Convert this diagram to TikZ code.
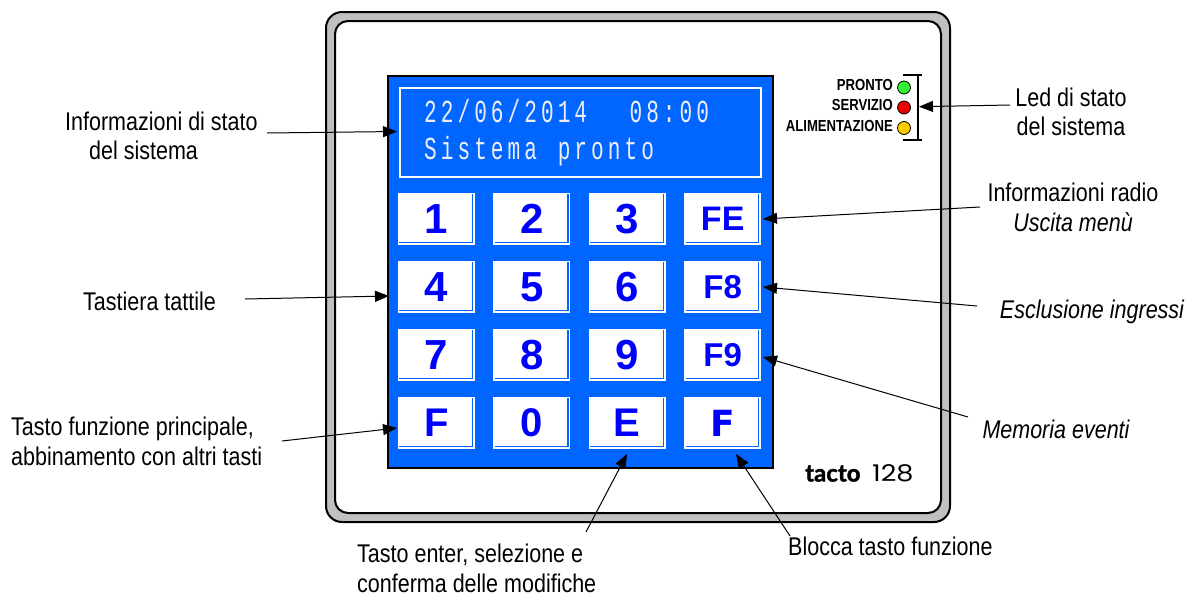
\documentclass[tikz,border=0pt]{standalone}
\usepackage{fontspec}
\setmainfont[FakeStretch=0.84]{Liberation Sans}
\newfontfamily\btnfont{Liberation Sans}
\newfontfamily\btnfontB{DejaVu Sans}
\newfontfamily\ledfont[FakeStretch=0.82]{Liberation Sans}
\newfontfamily\lcdfont[FakeStretch=0.66]{Liberation Mono}
\newfontfamily\tactofont[FakeBold=1.5]{Lato}
\newfontfamily\numfont[FakeStretch=1.18]{Poppins}
\usetikzlibrary{arrows.meta}
\definecolor{panelblue}{HTML}{0066FF}
\definecolor{framegray}{HTML}{C0C0C0}
\definecolor{keyblue}{HTML}{0000FF}
\definecolor{lcdtext}{HTML}{EEEEF4}
\definecolor{ledgreen}{HTML}{33EE33}
\definecolor{ledred}{HTML}{EE0000}
\definecolor{ledyellow}{HTML}{FFCC00}
\def\lcdend{}
\def\lcdloop#1{\ifx#1\lcdend\else\makebox[16.7pt][l]{#1}\expandafter\lcdloop\fi}
\newcommand\lcdline[1]{\lcdloop#1\lcdend}
\tikzset{
  lbl/.style={inner sep=0, font=\fontsize{25.6}{29.5}\selectfont},
  conn/.style={line width=1pt, -{Triangle[length=14pt,width=11pt]}},
  btn/.style={fill=white, inner sep=0, minimum width=77pt, minimum height=52pt, text=keyblue},
  keyshadow/.style={draw=panelblue, line width=1.2pt},
  led/.style={circle, draw=black, line width=0.8pt, minimum size=13pt, inner sep=0},
  ledlbl/.style={inner sep=0, anchor=base east, font=\ledfont\bfseries\fontsize{16}{16}\selectfont},
  lcd/.style={inner sep=0, anchor=base west, text=lcdtext, font=\lcdfont\fontsize{32}{32}\selectfont}
}
\begin{document}
\begin{tikzpicture}[x=1pt,y=-1pt]
\fill[white] (0,0) rectangle (1192,603);
\useasboundingbox (0,0) rectangle (1192,603);
% frame
\draw[line width=2pt, fill=framegray, rounded corners=16pt] (326,12) rectangle (950,522);
\draw[line width=2pt, fill=white, rounded corners=13pt] (335,21) rectangle (941,513);
% panel
\node[draw=black, line width=2pt, fill=panelblue, minimum width=385pt, minimum height=392pt, inner sep=0, anchor=north west] (panel) at (387,75) {};
\node[draw=white, line width=2pt, minimum width=361pt, minimum height=89pt, inner sep=0, anchor=north west] (display) at (399,87) {};
\node[lcd] (lcd1) at (424,122) {\lcdline{22/06/2014~~}\hspace{5pt}\lcdline{08:00}};
\node[lcd] (lcd2) at (424,159.3) {\lcdline{Sistema~pronto}};
% keys
\foreach \lab/\cx/\cy/\nm/\fs in {
  1/436.5/219/b1/42, 2/531.9/219/b2/42, 3/627.3/219/b3/42, FE/722.7/219/bFE/34,
  4/436.5/287/b4/42, 5/531.9/287/b5/42, 6/627.3/287/b6/42, F8/722.7/287/bF8/33,
  7/436.5/355/b7/42, 8/531.9/355/b8/42, 9/627.3/355/b9/42, F9/722.7/355/bF9/33,
  F/436.5/423/bF/40, 0/531.9/423/b0/40, E/627.3/423/bE/40}{
  \node[btn, font=\btnfont\bfseries\fontsize{\fs}{\fs}\selectfont] (\nm) at (\cx,\cy) {\lab};
  \draw[keyshadow] ([xshift=-2.6pt,yshift=-1.5pt]\nm.north east) -- ([xshift=-2.6pt,yshift=2.6pt]\nm.south east) -- ([xshift=1.5pt,yshift=2.6pt]\nm.south west);
}
\node[btn, font=\btnfontB\bfseries\fontsize{36}{36}\selectfont] (bLock) at (722.7,423) {F};
\draw[keyshadow] ([xshift=-2.6pt,yshift=-1.5pt]bLock.north east) -- ([xshift=-2.6pt,yshift=2.6pt]bLock.south east) -- ([xshift=1.5pt,yshift=2.6pt]bLock.south west);
% LEDs
\node[ledlbl] (lp) at (893,90.7) {PRONTO};
\node[ledlbl] (ls) at (893,110.7) {SERVIZIO};
\node[ledlbl] (la) at (893,131.7) {ALIMENTAZIONE};
\node[led, fill=ledgreen] (ledP) at (904,87.5) {};
\node[led, fill=ledred] (ledS) at (904,107.5) {};
\node[led, fill=ledyellow] (ledA) at (904,128) {};
\draw[line width=1.5pt] (903,75) -- (922,75) (918,75) -- (918,140) (903,140) -- (922,140);
% logo
\node[inner sep=0, anchor=base west, font=\tactofont\bfseries\fontsize{24}{24}\selectfont] (tacto) at (805,481.5) {tacto};
\node[inner sep=0, anchor=base west, font=\numfont\fontsize{23}{23}\selectfont] (model) at (872,481.5) {128};
% labels (base anchor = last line)
\node[lbl, anchor=base west, align=left] (lInfo) at (65,159.5) {Informazioni di stato\\\hspace*{24pt}del sistema};
\node[lbl, anchor=base west] (lTast) at (83,310) {Tastiera tattile};
\node[lbl, anchor=base west, align=left] (lFunz) at (11,465) {Tasto funzione principale,\\abbinamento con altri tasti};
\node[lbl, anchor=base, align=center] (lLed) at (1071,135.5) {Led di stato\\del sistema};
\node[lbl, anchor=base, align=center] (lRadio) at (1073,231) {Informazioni radio\\\textit{Uscita menù}};
\node[lbl, anchor=base, font=\itshape\fontsize{25.6}{29.5}\selectfont] (lEscl) at (1092,318) {Esclusione ingressi};
\node[lbl, anchor=base, font=\itshape\fontsize{25.6}{29.5}\selectfont] (lMem) at (1056,438) {Memoria eventi};
\node[lbl, anchor=base west, align=left] (lEnter) at (357,592) {Tasto enter, selezione e\\conferma delle modifiche};
\node[lbl, anchor=base west] (lBlocca) at (788,555) {Blocca tasto funzione};
% connector ends
\coordinate (tInfo) at (267,133);   \coordinate (hInfo) at (397,131.5);
\coordinate (tTast) at (245,299);   \coordinate (hTast) at (389,296);
\coordinate (tFunz) at (282,441);   \coordinate (hFunz) at (397,428);
\coordinate (tLed) at (1010,105);   \coordinate (hLed) at (919,106.7);
\coordinate (tRadio) at (980,207);  \coordinate (hRadio) at (763,219);
\coordinate (tEscl) at (977,306);   \coordinate (hEscl) at (763,287);
\coordinate (tMem) at (968,417);    \coordinate (hMem) at (763,357);
\coordinate (tEnter) at (586,532);  \coordinate (hEnter) at (627,454);
\coordinate (tBlocca) at (790,536); \coordinate (hBlocca) at (736,454);
\draw[conn] (tInfo) -- (hInfo);
\draw[conn] (tTast) -- (hTast);
\draw[conn] (tFunz) -- (hFunz);
\draw[conn] (tLed) -- (hLed);
\draw[conn] (tRadio) -- (hRadio);
\draw[conn] (tEscl) -- (hEscl);
\draw[conn] (tMem) -- (hMem);
\draw[conn] (tEnter) -- (hEnter);
\draw[conn] (tBlocca) -- (hBlocca);
\end{tikzpicture}
\end{document}
